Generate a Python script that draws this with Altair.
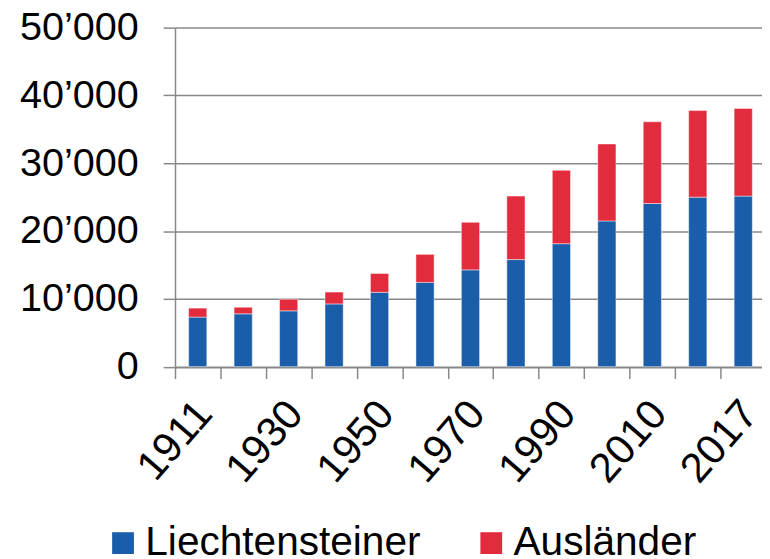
import altair as alt
import pandas as pd

years = ["1911", "1921", "1930", "1941", "1950", "1960", "1970", "1980",
         "1990", "2000", "2010", "2015", "2017"]
shown_labels = ["1911", "1930", "1950", "1970", "1990", "2010", "2017"]
liechtensteiner = [7310, 7790, 8230, 9250, 10960, 12430, 14270, 15790,
                   18130, 21490, 24060, 25000, 25150]
auslaender = [1320, 980, 1710, 1750, 2780, 4130, 7020, 9360,
              10820, 11350, 12050, 12760, 12910]
series = ["Liechtensteiner", "Ausländer"]
colors = ["#1A5DA9", "#E22B3D"]

rows = []
for i, y in enumerate(years):
    rows.append({"Jahr": y, "Gruppe": series[0], "Wert": liechtensteiner[i], "ord": 0})
    rows.append({"Jahr": y, "Gruppe": series[1], "Wert": auslaender[i], "ord": 1})
df = pd.DataFrame(rows)

FONT = "Liberation Sans"
label_list = ",".join("'" + s + "'" for s in shown_labels)

chart = alt.Chart(df).mark_bar(
    stroke="#ffffff", strokeOpacity=0.45, strokeWidth=1
).encode(
    x=alt.X("Jahr:N", sort=years,
            scale=alt.Scale(range=[0, 597], paddingInner=0.6, paddingOuter=0.3),
            axis=alt.Axis(
                title=None, bandPosition=0, tickOffset=-13.8, labelOffset=20,
                labelAngle=311, labelAlign="right", labelBaseline="middle",
                labelFontSize=42, labelFont=FONT, labelColor="#000000",
                labelPadding=28, tickSize=12, tickColor="#888888", tickWidth=1.5,
                domainColor="#888888", domainWidth=1.5, labelOverlap=False,
                labelLimit=300,
                labelExpr="indexof([" + label_list + "], datum.label) >= 0 ? datum.label : ''",
            )),
    y=alt.Y("Wert:Q", stack="zero",
            scale=alt.Scale(domain=[0, 50000], nice=False),
            axis=alt.Axis(
                title=None, values=[0, 10000, 20000, 30000, 40000, 50000],
                labelExpr="replace(format(datum.value, ','), ',', '\u2019')",
                labelFontSize=40, labelFont=FONT, labelColor="#000000",
                labelPadding=25, tickSize=12, tickColor="#888888", tickWidth=1.5,
                domainColor="#888888", domainWidth=1.5,
                grid=True, gridColor="#888888", gridWidth=1.5,
            )),
    color=alt.Color("Gruppe:N", sort=series,
                    scale=alt.Scale(domain=series, range=colors),
                    legend=alt.Legend(
                        title=None, orient="none", direction="horizontal",
                        legendX=-73, legendY=500,
                        symbolType="square", symbolSize=484, symbolStrokeWidth=0,
                        labelFontSize=41, labelFont=FONT, labelColor="#000000",
                        labelOffset=2, columnPadding=50, labelLimit=400,
                    )),
    order=alt.Order("ord:Q"),
).properties(
    width=593, height=342.5,
    autosize=alt.AutoSizeParams(type="none"),
    padding={"left": 168.7, "top": 17, "right": 0, "bottom": 191.5},
).configure_view(stroke=None)

chart.save("out.html", embed_options={"renderer": "svg", "actions": False})
